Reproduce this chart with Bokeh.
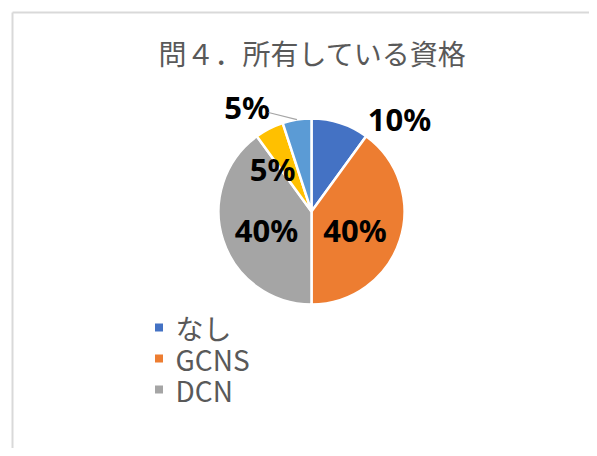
import math
from bokeh.plotting import figure
from bokeh.models import ColumnDataSource, Label
from bokeh.core.properties import value
from bokeh.embed import file_html
from bokeh.resources import INLINE

# ---- data ----
title_text = "問４．所有している資格"
categories = ["なし", "GCNS", "DCN", "その他", "無回答"]
counts = [10, 40, 40, 5, 5]
colors = ["#4472C4", "#ED7D31", "#A5A5A5", "#FFC000", "#5B9BD5"]
legend_count = 3  # only the first three entries are visible in the legend

# ---- layout (screen px) ----
W, H = 589, 448
def X(px): return px
def Y(py): return H - py

cx, cy, R = X(311), Y(211), 93
# label offsets from pie centre (dx right, dy down), px
label_offsets = [(88, -93), (43.5, 18), (-45, 18), (-39, -43), (-64.5, -105)]
leader_for = 4
# legend placement
leg_sq_x, leg_txt_x, leg_y0, leg_pitch = 158.5, 175, 327, 31

total = sum(counts)
fracs = [c / total for c in counts]
starts, ends = [], []
acc = 0.0
for f in fracs:
    starts.append(math.pi / 2 - 2 * math.pi * acc)
    acc += f
    ends.append(math.pi / 2 - 2 * math.pi * acc)

p = figure(width=W, height=H, x_range=(0, W), y_range=(0, H), min_border=0,
           toolbar_location=None, output_backend="svg")
p.axis.visible = False
p.grid.visible = False
p.outline_line_color = None
p.background_fill_color = "white"
p.border_fill_color = "white"

# chart area border: only left and top edges are visible in the page
p.segment(x0=[X(12), X(12)], y0=[Y(12), Y(12)], x1=[X(12), W + 50], y1=[-50, Y(12)],
          line_color="#d9d9d9", line_width=2)

src = ColumnDataSource(dict(cat=categories, val=counts, color=colors,
                            start=starts, end=ends))
p.wedge(x=cx, y=cy, radius=R, start_angle="start", end_angle="end",
        direction="clock", fill_color="color", line_color="white",
        line_width=2.5, source=src)

# data labels
lx, ly, lt = [], [], []
for i, c in enumerate(counts):
    dx, dy = label_offsets[i]
    lx.append(cx + dx)
    ly.append(cy - dy)
    lt.append(f"{c / total * 100:.0f}%")
p.text(x=lx, y=ly, text=lt, text_font=value("Noto Sans"), text_font_style="bold",
       text_font_size="31px", text_color="black", text_align="center",
       text_baseline="middle")

# leader line for the outside label
mid = (starts[leader_for] + ends[leader_for]) / 2
ax, ay = cx + R * math.cos(mid), cy + R * math.sin(mid)
p.segment(x0=[lx[leader_for] + 21.5], y0=[ly[leader_for] - 6], x1=[ax], y1=[ay],
          line_color="#a6a6a6", line_width=1.2)

# title
p.add_layout(Label(x=X(312), y=Y(52.5), text=title_text, text_font="Noto Sans CJK JP",
                   text_font_size="28px", text_color="#595959", text_align="center",
                   text_baseline="middle"))

# legend (first three entries)
leg_src = ColumnDataSource(dict(
    x=[X(leg_sq_x)] * legend_count,
    tx=[X(leg_txt_x)] * legend_count,
    y=[Y(leg_y0 + leg_pitch * i) for i in range(legend_count)],
    label=categories[:legend_count],
    color=colors[:legend_count],
))
p.scatter(x="x", y="y", marker="square", size=8, fill_color="color",
          line_color=None, source=leg_src)
p.text(x="tx", y="y", text="label", text_font=value("Noto Sans CJK JP"),
       text_font_size="28px", text_color="#595959", text_align="left",
       text_baseline="middle", source=leg_src)

open("out.html", "w").write(file_html(p, INLINE))
